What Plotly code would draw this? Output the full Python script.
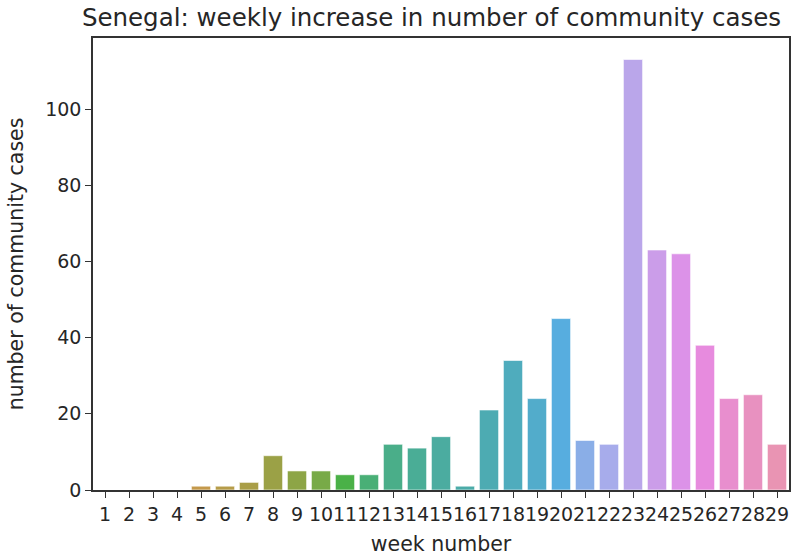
import math
import colorsys
import plotly.graph_objects as go

weeks = [str(i) for i in range(1, 30)]
cases = [0, 0, 0, 0, 1, 1, 2, 9, 5, 5, 4, 4, 12, 11, 14, 1, 21, 34, 24, 45,
         13, 12, 113, 63, 62, 38, 24, 25, 12]

# --- husl palette (seaborn style) ---
_m = [[3.2406, -1.5372, -0.4986],
      [-0.9689, 1.8758, 0.0415],
      [0.0557, -0.2040, 1.0570]]
refU, refV = 0.19784, 0.46834
lab_e, lab_k = 0.008856, 903.3


def max_chroma(L, H):
    hrad = math.radians(H)
    sinH, cosH = math.sin(hrad), math.cos(hrad)
    sub1 = (L + 16) ** 3 / 1560896.0
    sub2 = sub1 if sub1 > 0.008856 else (L / 903.3)
    result = float("inf")
    for m1, m2, m3 in _m:
        top = (0.99915 * m1 + 1.05122 * m2 + 1.14460 * m3) * sub2
        rbottom = 0.86330 * m3 - 0.17266 * m2
        lbottom = 0.12949 * m3 - 0.38848 * m1
        bottom = (rbottom * sinH + lbottom * cosH) * sub2
        for t in (0.0, 1.0):
            C = L * (top - 1.05122 * t) / (bottom + 0.17266 * sinH * t)
            if 0.0 < C < result:
                result = C
    return result


def husl_to_rgb(H, S, L):
    C = max_chroma(L, H) / 100.0 * S
    U = math.cos(math.radians(H)) * C
    V = math.sin(math.radians(H)) * C
    t = (L + 16.0) / 116.0
    varY = t ** 3 if t ** 3 > lab_e else (116.0 * t - 16.0) / lab_k
    varU = U / (13.0 * L) + refU
    varV = V / (13.0 * L) + refV
    Y = varY
    X = -(9.0 * Y * varU) / ((varU - 4.0) * varV - varU * varV)
    Z = (9.0 * Y - 15.0 * varV * Y - varV * X) / (3.0 * varV)
    out = []
    for row in _m:
        c = row[0] * X + row[1] * Y + row[2] * Z
        c = 12.92 * c if c <= 0.0031308 else 1.055 * c ** (1 / 2.4) - 0.055
        out.append(min(max(c, 0.0), 1.0))
    return out


def husl_palette(n, h=0.01, s=0.9, l=0.70):
    cols = []
    for i in range(n):
        hue = ((i / n + h) % 1) * 359
        r, g, b = husl_to_rgb(hue, s * 99, l * 99)
        hh, ll, ss = colorsys.rgb_to_hls(r, g, b)
        r, g, b = colorsys.hls_to_rgb(hh, ll, ss * 0.75)
        cols.append("rgb(%d,%d,%d)" % (round(r * 255), round(g * 255), round(b * 255)))
    return cols


colors = husl_palette(len(weeks))
text_color = "#262626"
font_family = "DejaVu Sans"

fig = go.Figure(go.Bar(
    x=list(range(len(weeks))), y=cases,
    marker=dict(color=colors, line=dict(color="rgba(255,255,255,0.6)", width=1)),
    width=0.8,
))

fig.update_layout(
    width=799, height=557,
    margin=dict(l=93, r=10, t=38, b=67),
    paper_bgcolor="white", plot_bgcolor="white",
    showlegend=False,
    font=dict(family=font_family, size=19, color=text_color),
    title=dict(text="Senegal: weekly increase in number of community cases",
               x=0.54, xanchor="center", y=0.968, yanchor="middle",
               font=dict(size=24.5, color=text_color)),
)
fig.update_xaxes(
    range=[-0.5, len(weeks) - 0.5],
    tickmode="array", tickvals=list(range(len(weeks))), ticktext=weeks,
    tickangle=0, automargin=False,
    showline=True, linecolor="#333333", linewidth=1.5, mirror=True,
    ticks="outside", ticklen=6, tickcolor="#333333", tickwidth=1.2,
    showgrid=False, zeroline=False,
    tickfont=dict(size=19),
    title=dict(text="week number", font=dict(size=20.5), standoff=13),
)
fig.update_yaxes(
    range=[0, 113 * 1.05],
    tickmode="array", tickvals=[0, 20, 40, 60, 80, 100],
    automargin=False,
    showline=True, linecolor="#333333", linewidth=1.5, mirror=True,
    ticks="outside", ticklen=6, tickcolor="#333333", tickwidth=1.2,
    showgrid=False, zeroline=False,
    tickfont=dict(size=19),
    title=dict(text="number of community cases", font=dict(size=20.5), standoff=16),
)

fig.write_html("out.html", config={"displayModeBar": False},
               post_script="document.body.style.margin='0';")
